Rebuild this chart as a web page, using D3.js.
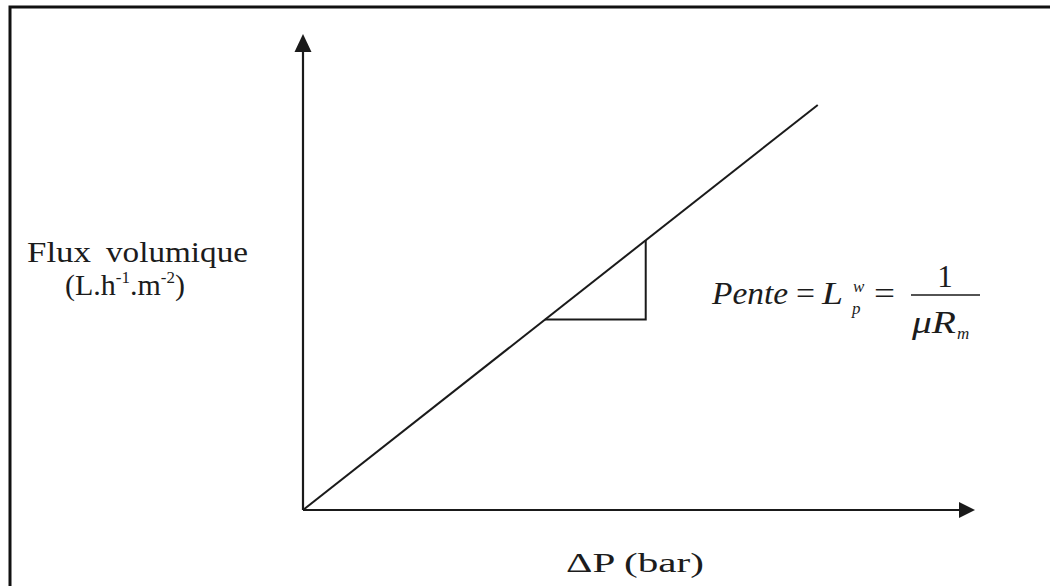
<!DOCTYPE html>
<html><head><meta charset="utf-8">
<script src="https://cdn.jsdelivr.net/npm/d3@7/dist/d3.min.js"></script>
<style>
html,body{margin:0;padding:0;background:#fff;}
svg{display:block;}
</style></head>
<body>
<svg id="c" width="1050" height="586"></svg>
<script>
// Schematic data (arbitrary units)
const axisMax = [100, 100];            // x-axis end, y-axis end (arrow tips)
const lineX = [0, 76.6];                // flux line ΔP values
const lineY = [0, 85.1];                // flux line values
const triX = [36, 51, 51];              // slope triangle
const triY = [40, 40, 56.7];
const yLabel = ["Flux", "volumique", "(L.h", "-1", ".m", "-2", ")"];
const xLabel = "ΔP (bar)";

const FONT = "'Liberation Serif', 'Times New Roman', Times, 'DejaVu Serif', serif";
const ink = "#1a1a1a";
const svg = d3.select("#c");
svg.style("font-family", FONT);
const x = d3.scaleLinear().domain([0, 100]).range([303, 975]);
const y = d3.scaleLinear().domain([0, 100]).range([510, 34]);

// frame (cropped box)
svg.append("rect").attr("x", 10).attr("y", 7).attr("width", 1200).attr("height", 700)
  .attr("fill", "none").attr("stroke", "#111").attr("stroke-width", 3);

// axes
svg.append("line").attr("x1", x(0)).attr("y1", y(0)).attr("x2", x(0)).attr("y2", y(axisMax[1]) + 14)
  .attr("stroke", ink).attr("stroke-width", 2.2);
svg.append("line").attr("x1", x(0)).attr("y1", y(0)).attr("x2", x(axisMax[0]) - 12).attr("y2", y(0))
  .attr("stroke", ink).attr("stroke-width", 2.2);
svg.append("path").attr("fill", ink)
  .attr("d", `M${x(0)},${y(axisMax[1])} L${x(0) + 8.5},${y(axisMax[1]) + 18} L${x(0) - 8.5},${y(axisMax[1]) + 18} Z`);
svg.append("path").attr("fill", ink)
  .attr("d", `M${x(axisMax[0])},${y(0)} L${x(axisMax[0]) - 16},${y(0) - 8} L${x(axisMax[0]) - 16},${y(0) + 8} Z`);

// the line
svg.append("path").datum(lineX.map((v, i) => [v, lineY[i]]))
  .attr("fill", "none").attr("stroke", ink).attr("stroke-width", 2)
  .attr("d", d3.line().x(d => x(d[0])).y(d => y(d[1])));
// slope triangle
svg.append("path").datum(triX.map((v, i) => [v, triY[i]]))
  .attr("fill", "none").attr("stroke", ink).attr("stroke-width", 2)
  .attr("d", d3.line().x(d => x(d[0])).y(d => y(d[1])));

function txt(s, xx, yy, size, opts = {}) {
  const t = svg.append("text").attr("x", xx).attr("y", yy)
    .attr("font-family", FONT).attr("font-size", size).attr("fill", "#1c1c1c").text(s);
  if (opts.italic) t.attr("font-style", "italic");
  if (opts.anchor) t.attr("text-anchor", opts.anchor);
  if (opts.len) t.attr("textLength", opts.len).attr("lengthAdjust", "spacingAndGlyphs");
  return t;
}

// y label
txt(yLabel[0], 27, 262, 30, {len: 64});
txt(yLabel[1], 106, 262, 30, {len: 142});
const yl2 = svg.append("text").attr("x", 65).attr("y", 295).attr("font-family", FONT)
  .attr("font-size", 30).attr("fill", "#1c1c1c");
yl2.append("tspan").text(yLabel[2]);
yl2.append("tspan").attr("dy", -12).attr("font-size", 17).text(yLabel[3]);
yl2.append("tspan").attr("dy", 12).text(yLabel[4]);
yl2.append("tspan").attr("dy", -12).attr("font-size", 17).text(yLabel[5]);
yl2.append("tspan").attr("dy", 12).text(yLabel[6]);

// x label
txt(xLabel, 566, 572, 28, {len: 138});

// formula
txt("Pente", 712, 304, 31, {italic: true, len: 76});
txt("=", 796, 304, 31, {len: 19});
txt("L", 822, 304, 31, {italic: true, len: 21});
txt("w", 853, 292, 17, {italic: true});
txt("p", 852, 314, 17, {italic: true});
txt("=", 874, 304, 31, {len: 21});
svg.append("line").attr("x1", 911).attr("x2", 980).attr("y1", 295).attr("y2", 295)
  .attr("stroke", ink).attr("stroke-width", 1.6);
txt("1", 945, 287, 31, {anchor: "middle"});
txt("μR", 912, 333, 31, {italic: true, len: 44});
txt("m", 957, 339, 17, {italic: true});
</script>
</body></html>
